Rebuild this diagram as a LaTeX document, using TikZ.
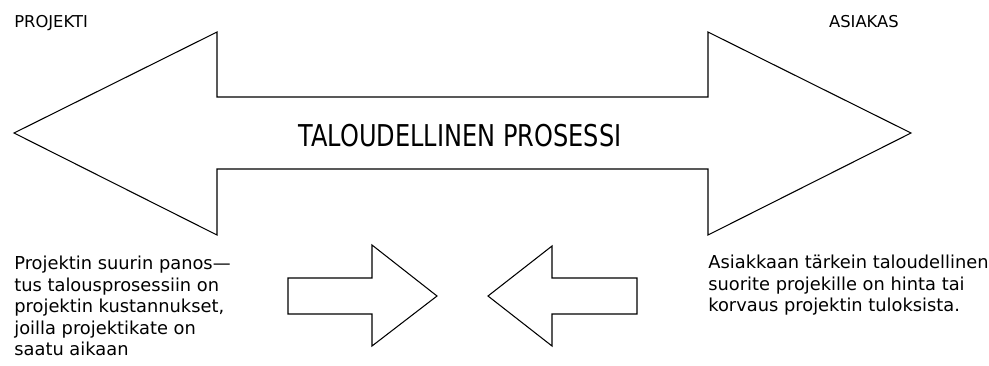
\documentclass[tikz,border=0pt]{standalone}
\usepackage{fontspec}
\setmainfont{DejaVu Sans}
\newfontfamily\narrowfont[FakeStretch=0.8]{DejaVu Sans}

\begin{document}
\begin{tikzpicture}[x=0.2mm, y=-0.2mm]
    % Define styles
    \tikzstyle{outline} = [draw, line width=0.6pt, line join=miter]
    \tikzstyle{party} = [font=\fontsize{9.3}{11}\selectfont, inner sep=0]
    \tikzstyle{note} = [font=\fontsize{10.15}{12.2}\selectfont, align=left, inner sep=0, anchor=north west]
    \useasboundingbox (0,0) rectangle (989,365);

    % Main double arrow
    \draw[outline] (14,133) -- (217,32) -- (217,97) -- (708,97) -- (708,32) -- (911,133)
        -- (708,235) -- (708,169) -- (217,169) -- (217,235) -- cycle;

    % Small arrows
    \draw[outline] (288,278) -- (372,278) -- (372,245) -- (437,296) -- (372,346) -- (372,314) -- (288,314) -- cycle;
    \draw[outline] (637,278) -- (552,278) -- (552,246) -- (488,296) -- (552,346) -- (552,314) -- (637,314) -- cycle;

    % Texts
    \node[party, anchor=base west] (projekti) at (14,27) {PROJEKTI};
    \node[party, anchor=base east] (asiakas) at (899,27) {ASIAKAS};
    \node[inner sep=0, anchor=base, font=\narrowfont\fontsize{17.1}{20}\selectfont] (prosessi) at (460,146) {TALOUDELLINEN PROSESSI};
    \node[note] (panos) at (14,256) {Projektin suurin panos—\\tus talousprosessiin on\\projektin kustannukset,\\joilla projektikate on\\saatu aikaan};
    \node[note] (suorite) at (708,255) {Asiakkaan tärkein taloudellinen\\suorite projekille on hinta tai\\korvaus projektin tuloksista.};
\end{tikzpicture}
\end{document}
